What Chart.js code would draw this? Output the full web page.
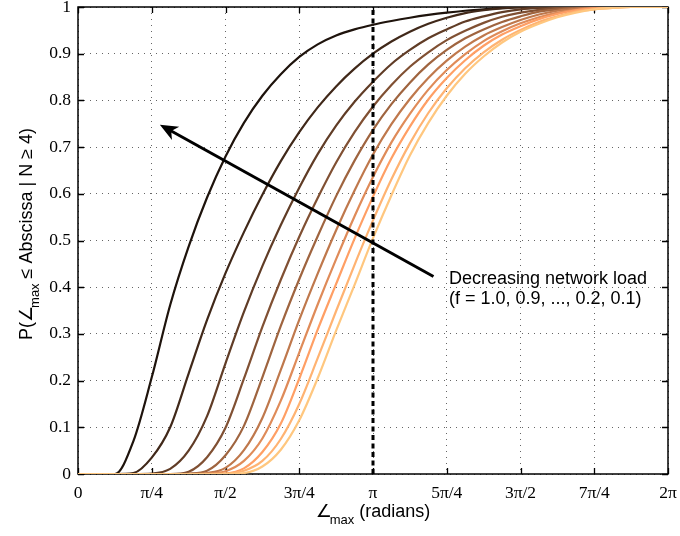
<!DOCTYPE html>
<html><head><meta charset="utf-8">
<script src="https://cdn.jsdelivr.net/npm/chart.js@4.4.1/dist/chart.umd.min.js"></script>
<style>html,body{margin:0;padding:0;background:#fff;}#wrap{width:680px;height:536px;position:relative;}</style>
</head><body><div id="wrap"><canvas id="c" width="680" height="536"></canvas></div>
<script>
// x positions in units of pi/4 (0 .. 8 = 0 .. 2pi)
const xSteps = [0,0.25,0.5,0.75,1,1.25,1.5,1.75,2,2.25,2.5,2.75,3,3.25,3.5,3.75,4,4.25,4.5,4.75,5,5.25,5.5,5.75,6,6.25,6.5,6.75,7,7.25,7.5,7.75,8];
const xTickLabels = ['0','π/4','π/2','3π/4','π','5π/4','3π/2','7π/4','2π'];
const loadFactors = ['1.0','0.9','0.8','0.7','0.6','0.5','0.4','0.3','0.2','0.1'];

const curveF10 = [0,0,0,.07,.207,.362,.487,.592,.68,.752,.81,.856,.893,.92,.939,.952,.962,.97,.977,.983,.988,.992,.995,.998,1,1,1,1,1,1,1,1,1];
const curveF09 = [0,0,0,.002,.035,.1,.215,.33,.43,.518,.598,.67,.732,.785,.83,.868,.9,.926,.947,.964,.977,.987,.993,.997,.999,1,1,1,1,1,1,1,1];
const curveF08 = [0,0,0,0,.001,.011,.05,.124,.237,.347,.445,.533,.613,.685,.746,.797,.84,.878,.908,.933,.952,.969,.98,.989,.995,.998,.999,1,1,1,1,1,1];
const curveF07 = [0,0,0,0,0,0,.005,.036,.099,.204,.315,.416,.508,.591,.667,.732,.787,.833,.872,.903,.929,.949,.966,.979,.988,.994,.998,.999,1,1,1,1,1];
const curveF06 = [0,0,0,0,0,0,.001,.007,.04,.103,.207,.317,.417,.509,.595,.671,.737,.792,.838,.877,.908,.933,.952,.968,.98,.99,.995,.998,.999,1,1,1,1];
const curveF05 = [0,0,0,0,0,0,0,.002,.013,.051,.12,.223,.33,.429,.522,.607,.684,.749,.803,.848,.885,.915,.939,.957,.972,.984,.992,.996,.999,1,1,1,1];
const curveF04 = [0,0,0,0,0,0,0,.001,.006,.028,.076,.157,.26,.363,.46,.552,.636,.71,.771,.823,.865,.899,.927,.948,.965,.978,.988,.994,.998,1,1,1,1];
const curveF03 = [0,0,0,0,0,0,0,0,.001,.012,.047,.108,.204,.309,.407,.504,.594,.676,.744,.802,.848,.886,.917,.941,.959,.974,.985,.993,.997,.999,1,1,1];
const curveF02 = [0,0,0,0,0,0,0,0,.001,.007,.028,.075,.15,.248,.349,.448,.543,.631,.708,.773,.826,.869,.903,.93,.951,.968,.98,.99,.995,.998,1,1,1];
const curveF01 = [0,0,0,0,0,0,0,0,0,.002,.016,.052,.115,.205,.307,.405,.505,.597,.682,.752,.81,.857,.894,.924,.947,.964,.978,.988,.995,.998,1,1,1];

const piLineX = [4, 4];
const piLineY = [0, 1];
const arrowTail = [4.82, 0.423];
const arrowTip = [1.11, 0.748];
const noteLines = ['Decreasing network load', '(f = 1.0, 0.9, ..., 0.2, 0.1)'];
const noteAnchor = [5.03, 0.407];

const curves = [curveF10,curveF09,curveF08,curveF07,curveF06,curveF05,curveF04,curveF03,curveF02,curveF01];
const curveColors = ['rgb(30,19,12)','rgb(64,40,25)','rgb(96,60,38)','rgb(128,80,51)','rgb(159,100,63)','rgb(191,120,76)','rgb(223,139,89)','rgb(255,159,101)','rgb(255,179,114)','rgb(255,199,127)'];

const datasets = curves.map((arr, i) => ({
  label: 'f = ' + loadFactors[i],
  data: xSteps.map((x, j) => ({x: x, y: arr[j]})),
  borderColor: curveColors[i],
  borderWidth: 2.2,
  pointRadius: 0,
  fill: false,
  cubicInterpolationMode: 'monotone',
  order: curves.length - i
}));
datasets.push({
  label: 'pi',
  data: piLineX.map((x, j) => ({x: x, y: piLineY[j]})),
  borderColor: '#000',
  borderWidth: 3,
  borderDash: [5, 3.5],
  pointRadius: 0,
  fill: false,
  order: -1
});

const SANS = '"Liberation Sans", Arial, Helvetica, sans-serif';
const SERIF = '"Liberation Serif", "Times New Roman", serif';

function drawPieces(ctx, pieces, startX, baseY) {
  let x = startX;
  pieces.forEach(p => {
    ctx.font = p.font;
    ctx.fillText(p.t, x + (p.dx || 0), baseY + (p.dy || 0));
    x += ctx.measureText(p.t).width + (p.dx || 0);
  });
}
function piecesWidth(ctx, pieces) {
  let w = 0;
  pieces.forEach(p => { ctx.font = p.font; w += ctx.measureText(p.t).width + (p.dx || 0); });
  return w;
}
function noPad(s) { s.paddingTop = 0; s.paddingBottom = 0; s.paddingLeft = 0; s.paddingRight = 0; }

const decor = {
  id: 'decor',
  beforeDatasetsDraw(chart) {
    const {ctx, chartArea: a, scales: {x, y}} = chart;
    ctx.save();
    ctx.strokeStyle = '#000';
    ctx.lineWidth = 1.5;
    ctx.setLineDash([]);
    ctx.strokeRect(a.left, a.top, a.right - a.left, a.bottom - a.top);
    ctx.lineWidth = 1.3;
    ctx.beginPath();
    x.ticks.forEach(t => {
      const px = Math.round(x.getPixelForValue(t.value)) + 0.5;
      ctx.moveTo(px, a.bottom); ctx.lineTo(px, a.bottom - 6);
      ctx.moveTo(px, a.top); ctx.lineTo(px, a.top + 6);
    });
    y.ticks.forEach(t => {
      const py = Math.round(y.getPixelForValue(t.value)) + 0.5;
      ctx.moveTo(a.left, py); ctx.lineTo(a.left + 6, py);
      ctx.moveTo(a.right, py); ctx.lineTo(a.right - 6, py);
    });
    ctx.stroke();
    ctx.restore();
  },
  afterDatasetsDraw(chart) {
    const {ctx, scales: {x, y}} = chart;
    ctx.save();
    const tx = x.getPixelForValue(arrowTail[0]), ty = y.getPixelForValue(arrowTail[1]);
    const hx = x.getPixelForValue(arrowTip[0]), hy = y.getPixelForValue(arrowTip[1]);
    const len = Math.hypot(tx - hx, ty - hy);
    const ux = (tx - hx) / len, uy = (ty - hy) / len;
    const nx = -uy, ny = ux;
    ctx.strokeStyle = '#000';
    ctx.fillStyle = '#000';
    ctx.lineWidth = 3;
    ctx.beginPath();
    ctx.moveTo(tx, ty);
    ctx.lineTo(hx + ux * 12, hy + uy * 12);
    ctx.stroke();
    ctx.beginPath();
    ctx.moveTo(hx, hy);
    ctx.lineTo(hx + ux * 18 + nx * 7.5, hy + uy * 18 + ny * 7.5);
    ctx.lineTo(hx + ux * 13, hy + uy * 13);
    ctx.lineTo(hx + ux * 18 - nx * 7.5, hy + uy * 18 - ny * 7.5);
    ctx.closePath();
    ctx.fill();
    ctx.font = '18px ' + SANS;
    ctx.textAlign = 'left';
    ctx.textBaseline = 'alphabetic';
    const nx0 = x.getPixelForValue(noteAnchor[0]), ny0 = y.getPixelForValue(noteAnchor[1]);
    noteLines.forEach((s, i) => ctx.fillText(s, nx0, ny0 + i * 20));
    ctx.restore();
  },
  afterDraw(chart) {
    const {ctx, chartArea: a} = chart;
    ctx.save();
    ctx.fillStyle = '#000';
    ctx.textAlign = 'left';
    ctx.textBaseline = 'alphabetic';
    const xp = [
      {t: '∠', font: '18px "DejaVu Sans"'},
      {t: 'max', font: '13px ' + SANS, dy: 7, dx: -2},
      {t: ' (radians)', font: '18px ' + SANS}
    ];
    const cx = (a.left + a.right) / 2;
    drawPieces(ctx, xp, cx - piecesWidth(ctx, xp) / 2, 517);
    const yp = [
      {t: 'P(', font: '18px ' + SANS},
      {t: '∠', font: '18px "DejaVu Sans"'},
      {t: 'max', font: '13px ' + SANS, dy: 7, dx: -2},
      {t: ' ≤ Abscissa | N ≥ 4)', font: '18px ' + SANS}
    ];
    ctx.translate(31.5, 234);
    ctx.rotate(-Math.PI / 2);
    drawPieces(ctx, yp, -piecesWidth(ctx, yp) / 2, 0);
    ctx.restore();
  }
};

new Chart(document.getElementById('c'), {
  type: 'line',
  data: {datasets: datasets},
  options: {
    responsive: false,
    animation: false,
    events: [],
    layout: {padding: {top: 7, right: 12, left: 0, bottom: 0}},
    plugins: {legend: {display: false}, tooltip: {enabled: false}, title: {display: false}},
    scales: {
      x: {
        type: 'linear', min: 0, max: 8,
        afterFit(s) { s.height = 62; noPad(s); },
        ticks: {stepSize: 1, autoSkip: false, maxRotation: 0, padding: 9, color: '#000',
          font: {family: SERIF, size: 17.5},
          callback: v => xTickLabels[Math.round(v)] || ''},
        grid: {color: 'rgba(0,0,0,0.6)', lineWidth: 1, drawTicks: false},
        border: {display: false, dash: [1, 5]}
      },
      y: {
        type: 'linear', min: 0, max: 1,
        afterFit(s) { s.width = 78; noPad(s); },
        ticks: {stepSize: 0.1, padding: 7, color: '#000',
          font: {family: SERIF, size: 17.5},
          callback: v => String(Math.round(v * 10) / 10)},
        grid: {color: 'rgba(0,0,0,0.6)', lineWidth: 1, drawTicks: false},
        border: {display: false, dash: [1, 5]}
      }
    }
  },
  plugins: [decor]
});
</script>
</body></html>
